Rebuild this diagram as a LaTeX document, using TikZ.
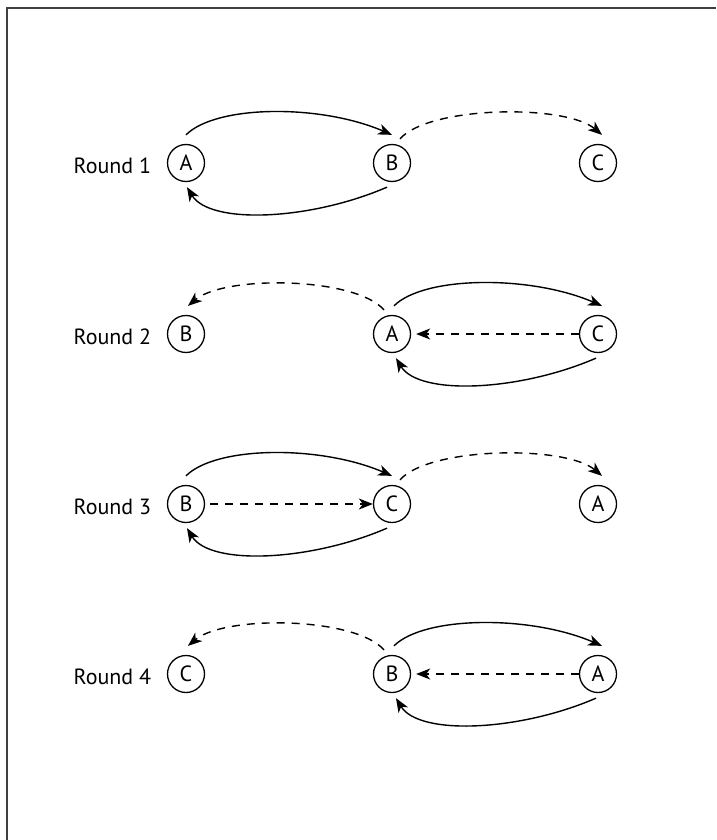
\documentclass[tikz,border=0pt]{standalone}
\usepackage{fontspec}
\setmainfont{PT Sans}
\usetikzlibrary{arrows.meta,positioning}

\begin{document}
\begin{tikzpicture}[x=1pt,y=-1pt,->,>={Stealth[length=14pt,width=11pt,inset=4pt]},line width=1.4pt,node distance=206pt,
    player/.style={circle,draw,line width=1.3pt,minimum size=37pt,inner sep=0pt},
    roundlabel/.style={inner sep=0pt,yshift=-3pt},
    hint/.style={dash pattern=on 8pt off 7pt},
    font=\fontsize{22}{26}\selectfont]
        \useasboundingbox (0,0) rectangle (716,840);
        \draw[-,line width=1.6pt,black!75] (7,840) -- (7,8) -- (716,8);

        \node[player] (n11) at (186,163) {A};
        \node[player] (n12) [right of=n11] {B};
        \node[player] (n13) [right of=n12] {C};
        \node[player] (n21) [below of=n11,node distance=171pt] {B};
        \node[player] (n22) [right of=n21] {A};
        \node[player] (n23) [right of=n22] {C};
        \node[player] (n31) [below of=n21,node distance=170pt] {B};
        \node[player] (n32) [right of=n31] {C};
        \node[player] (n33) [right of=n32] {A};
        \node[player] (n41) [below of=n31,node distance=170pt] {C};
        \node[player] (n42) [right of=n41] {B};
        \node[player] (n43) [right of=n42] {A};

        \node[roundlabel] (r1) [left=15pt of n11] {Round 1};
        \node[roundlabel] (r2) [left=15pt of n21] {Round 2};
        \node[roundlabel] (r3) [left=15pt of n31] {Round 3};
        \node[roundlabel] (r4) [left=15pt of n41] {Round 4};

        % round 1
        \draw ([yshift=9pt]n11.north) .. controls +(30,-30) and +(-72,-31) .. ([yshift=9pt]n12.north);
        \draw ([xshift=-5pt,yshift=-5pt]n12.south) .. controls +(-76,33) and +(23,38) .. ([xshift=1pt,yshift=-5pt]n11.south);
        \draw[hint] ([xshift=8pt,yshift=5pt]n12.north) .. controls +(29,-33) and +(-37,-31) .. ([xshift=4pt,yshift=9pt]n13.north);

        % round 2
        \draw ([xshift=2pt,yshift=9pt]n22.north) .. controls +(30,-30) and +(-72,-31) .. ([xshift=4pt,yshift=9pt]n23.north);
        \draw ([xshift=-2pt,yshift=-5pt]n23.south) .. controls +(-76,33) and +(23,38) .. ([xshift=4pt,yshift=-5pt]n22.south);
        \draw[hint] ([xshift=-8pt,yshift=5pt]n22.north) .. controls +(-29,-33) and +(37,-31) .. ([xshift=2pt,yshift=9pt]n21.north);
        \draw[hint] (n23.west) -- ([xshift=5pt]n22.east);

        % round 3
        \draw ([yshift=9pt]n31.north) .. controls +(30,-30) and +(-72,-31) .. ([yshift=9pt]n32.north);
        \draw ([xshift=-5pt,yshift=-5pt]n32.south) .. controls +(-76,33) and +(23,38) .. ([xshift=1pt,yshift=-5pt]n31.south);
        \draw[hint] ([xshift=8pt,yshift=5pt]n32.north) .. controls +(29,-33) and +(-37,-31) .. ([xshift=4pt,yshift=9pt]n33.north);
        \draw[hint] ([xshift=5pt]n31.east) -- (n32.west);

        % round 4
        \draw ([xshift=2pt,yshift=9pt]n42.north) .. controls +(30,-30) and +(-72,-31) .. ([xshift=4pt,yshift=9pt]n43.north);
        \draw ([xshift=-2pt,yshift=-5pt]n43.south) .. controls +(-76,33) and +(23,38) .. ([xshift=4pt,yshift=-5pt]n42.south);
        \draw[hint] ([xshift=-8pt,yshift=5pt]n42.north) .. controls +(-29,-33) and +(37,-31) .. ([xshift=2pt,yshift=9pt]n41.north);
        \draw[hint] (n43.west) -- ([xshift=5pt]n42.east);
    \end{tikzpicture}
\end{document}
